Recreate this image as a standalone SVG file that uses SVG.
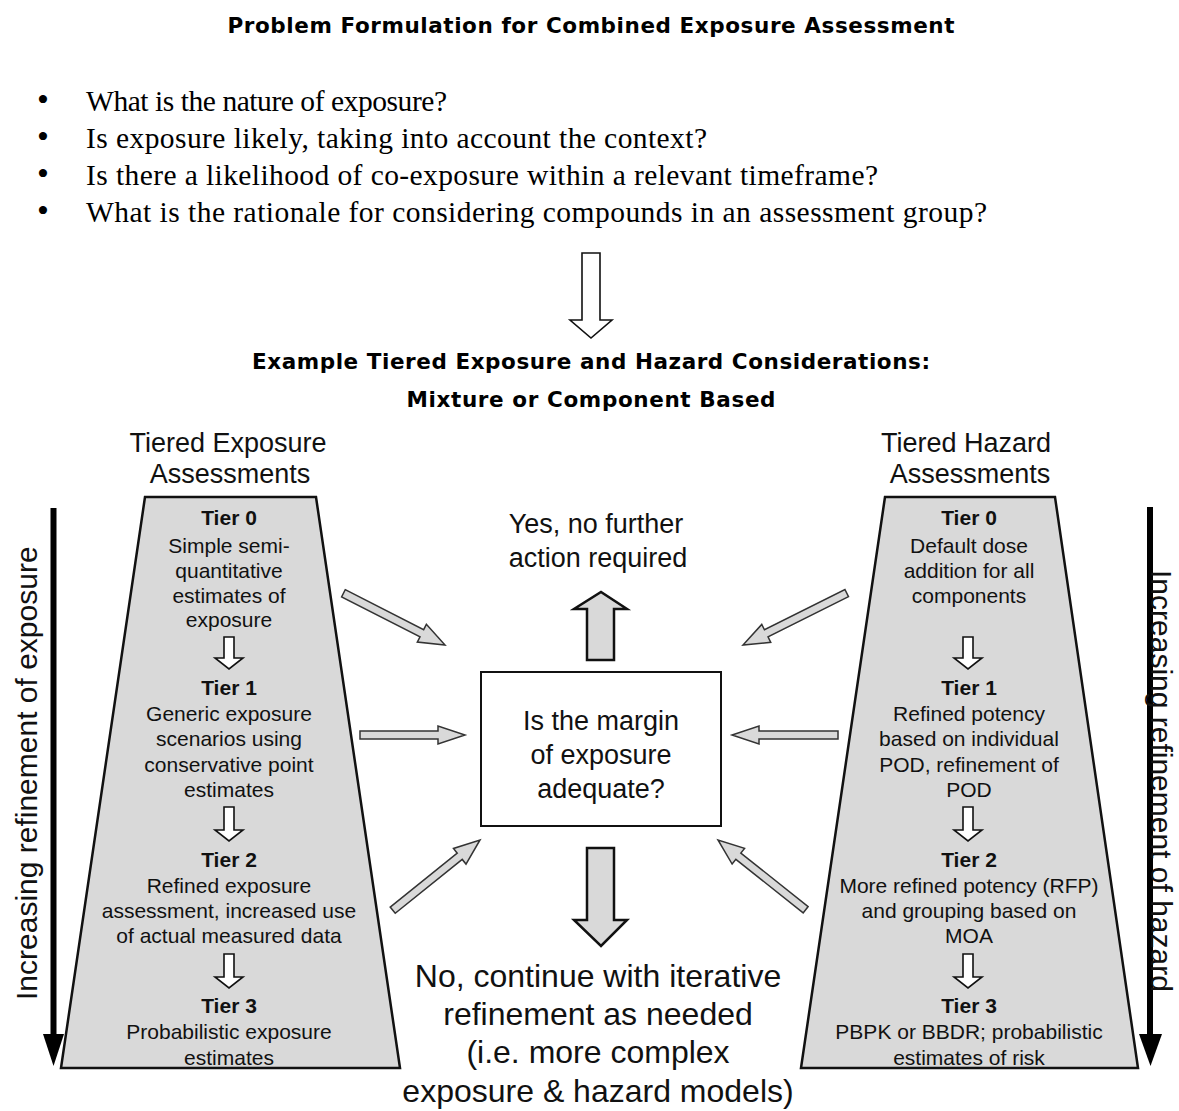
<svg xmlns="http://www.w3.org/2000/svg" width="1179" height="1111" viewBox="0 0 1179 1111">
<style>
.title{font-family:"DejaVu Sans",Verdana,sans-serif;font-weight:bold;font-size:21.5px;fill:#000;text-anchor:middle}
.bullet{font-family:"Liberation Serif","Times New Roman",serif;font-size:29.5px;fill:#000}
.dot{font-family:"Liberation Serif","Times New Roman",serif;font-size:34px;fill:#000}
.head{font-family:"Liberation Sans",Arial,sans-serif;font-size:27px;fill:#111;text-anchor:middle}
.tier{font-family:"Liberation Sans",Arial,sans-serif;font-size:21px;font-weight:bold;fill:#111;text-anchor:middle}
.body{font-family:"Liberation Sans",Arial,sans-serif;font-size:21px;fill:#111;text-anchor:middle}
.big{font-family:"Liberation Sans",Arial,sans-serif;font-size:27px;fill:#111;text-anchor:middle}
.bottom{font-family:"Liberation Sans",Arial,sans-serif;font-size:32px;fill:#111;text-anchor:middle}
.side{font-family:"Liberation Sans",Arial,sans-serif;font-size:30px;fill:#111}
.trap{fill:#d9d9d9;stroke:#111;stroke-width:2.5;stroke-linejoin:miter}
.hollow{fill:#fff;stroke:#111;stroke-width:1.6;stroke-linejoin:miter}
.garrow{fill:#d9d9d9;stroke:#333;stroke-width:1.5;stroke-linejoin:miter}
.block{fill:#d9d9d9;stroke:#111;stroke-width:2.5;stroke-linejoin:miter}
.box{fill:#fff;stroke:#111;stroke-width:2}
</style>

<g id="title">
<text class="title" x="591" y="33" textLength="727" lengthAdjust="spacing">Problem Formulation for Combined Exposure Assessment</text>
</g>

<g id="bullets">
<text class="dot" x="37" y="111">•</text><text class="bullet" x="86" y="111" textLength="361" lengthAdjust="spacing">What is the nature of exposure?</text>
<text class="dot" x="37" y="148">•</text><text class="bullet" x="86" y="148" textLength="621" lengthAdjust="spacing">Is exposure likely, taking into account the context?</text>
<text class="dot" x="37" y="185">•</text><text class="bullet" x="86" y="185" textLength="792" lengthAdjust="spacing">Is there a likelihood of co-exposure within a relevant timeframe?</text>
<text class="dot" x="37" y="222">•</text><text class="bullet" x="86" y="222" textLength="901" lengthAdjust="spacing">What is the rationale for considering compounds in an assessment group?</text>
</g>

<g id="subtitle">
<text class="title" x="591" y="369" textLength="678" lengthAdjust="spacing">Example Tiered Exposure and Hazard Considerations:</text>
<text class="title" x="591" y="407" textLength="369" lengthAdjust="spacing">Mixture or Component Based</text>
</g>

<g id="exposure-header">
<text class="head" x="228" y="452">Tiered Exposure</text>
<text class="head" x="230" y="483">Assessments</text>
</g>
<g id="hazard-header">
<text class="head" x="966" y="452">Tiered Hazard</text>
<text class="head" x="970" y="483">Assessments</text>
</g>

<g id="exposure-tiers">
<polygon class="trap" points="145,497 316,497 400,1068 61,1068"/>
<text class="tier" x="229" y="525">Tier 0</text>
<text class="body" x="229" y="553">Simple semi-</text>
<text class="body" x="229" y="578">quantitative</text>
<text class="body" x="229" y="603">estimates of</text>
<text class="body" x="229" y="627">exposure</text>
<text class="tier" x="229" y="695">Tier 1</text>
<text class="body" x="229" y="721">Generic exposure</text>
<text class="body" x="229" y="746">scenarios using</text>
<text class="body" x="229" y="772">conservative point</text>
<text class="body" x="229" y="797">estimates</text>
<text class="tier" x="229" y="867">Tier 2</text>
<text class="body" x="229" y="893">Refined exposure</text>
<text class="body" x="229" y="918">assessment, increased use</text>
<text class="body" x="229" y="943">of actual measured data</text>
<text class="tier" x="229" y="1013">Tier 3</text>
<text class="body" x="229" y="1039">Probabilistic exposure</text>
<text class="body" x="229" y="1065">estimates</text>
</g>

<g id="hazard-tiers">
<polygon class="trap" points="885,497 1055,497 1138,1068 801,1068"/>
<text class="tier" x="969" y="525">Tier 0</text>
<text class="body" x="969" y="553">Default dose</text>
<text class="body" x="969" y="578">addition for all</text>
<text class="body" x="969" y="603">components</text>
<text class="tier" x="969" y="695">Tier 1</text>
<text class="body" x="969" y="721">Refined potency</text>
<text class="body" x="969" y="746">based on individual</text>
<text class="body" x="969" y="772">POD, refinement of</text>
<text class="body" x="969" y="797">POD</text>
<text class="tier" x="969" y="867">Tier 2</text>
<text class="body" x="969" y="893">More refined potency (RFP)</text>
<text class="body" x="969" y="918">and grouping based on</text>
<text class="body" x="969" y="943">MOA</text>
<text class="tier" x="969" y="1013">Tier 3</text>
<text class="body" x="969" y="1039">PBPK or BBDR; probabilistic</text>
<text class="body" x="969" y="1065">estimates of risk</text>
</g>

<g id="decision">
<rect class="box" x="481" y="672" width="240" height="154"/>
<text class="big" x="601" y="730">Is the margin</text>
<text class="big" x="601" y="764">of exposure</text>
<text class="big" x="601" y="798">adequate?</text>
</g>

<g id="yes-outcome">
<text class="big" x="596" y="533">Yes, no further</text>
<text class="big" x="598" y="567">action required</text>
</g>

<g id="no-outcome">
<text class="bottom" x="598" y="987">No, continue with iterative</text>
<text class="bottom" x="598" y="1025">refinement as needed</text>
<text class="bottom" x="598" y="1063">(i.e. more complex</text>
<text class="bottom" x="598" y="1102">exposure &amp; hazard models)</text>
</g>

<g id="exposure-axis">
<line x1="53.5" y1="508" x2="53.5" y2="1036" stroke="#000" stroke-width="6"/>
<polygon points="43,1034 64,1034 53.5,1066" fill="#000"/>
<text class="side" transform="translate(37,1000) rotate(-90)">Increasing refinement of exposure</text>
</g>

<g id="hazard-axis">
<line x1="1150" y1="507" x2="1150" y2="1036" stroke="#000" stroke-width="6"/>
<polygon points="1139,1034 1162,1034 1150.5,1066" fill="#000"/>
<text class="side" transform="translate(1151,570) rotate(90)">Increasing refinement of hazard</text>
</g>

<g id="connectors">
<polygon class="hollow" points="582,253 600,253 600,320 612,320 591,338 570,320 582,320"/>
<polygon class="hollow" points="224,637 234,637 234,658 243,658 229,669 215,658 224,658"/>
<polygon class="hollow" points="224,807 234,807 234,830 243,830 229,841 215,830 224,830"/>
<polygon class="hollow" points="224,954 234,954 234,977 243,977 229,988 215,977 224,977"/>
<polygon class="hollow" points="963,637 973,637 973,658 982,658 968,669 954,658 963,658"/>
<polygon class="hollow" points="963,807 973,807 973,830 982,830 968,841 954,830 963,830"/>
<polygon class="hollow" points="963,954 973,954 973,977 982,977 968,988 954,977 963,977"/>

<polygon class="block" points="587,660 614,660 614,609 627,609 601,592 574,609 587,609"/>
<polygon class="block" points="587,848 614,848 614,920 627,920 601,946 574,920 587,920"/>

<polygon class="garrow" transform="translate(445,645) rotate(27)" points="-114,-4 -26,-4 -26,-10 0,0 -26,10 -26,4 -114,4"/>
<polygon class="garrow" transform="translate(743,645) rotate(153.4)" points="-116,-4 -26,-4 -26,-10 0,0 -26,10 -26,4 -116,4"/>
<polygon class="garrow" transform="translate(465,735)" points="-105,-4 -27,-4 -27,-9 0,0 -27,9 -27,4 -105,4"/>
<polygon class="garrow" transform="translate(732,735) rotate(180)" points="-106,-4 -27,-4 -27,-9 0,0 -27,9 -27,4 -106,4"/>
<polygon class="garrow" transform="translate(480,840) rotate(-38.8)" points="-112,-4 -26,-4 -26,-10 0,0 -26,10 -26,4 -112,4"/>
<polygon class="garrow" transform="translate(718,840) rotate(-141.5)" points="-112,-4 -26,-4 -26,-10 0,0 -26,10 -26,4 -112,4"/>
</g>
</svg>
